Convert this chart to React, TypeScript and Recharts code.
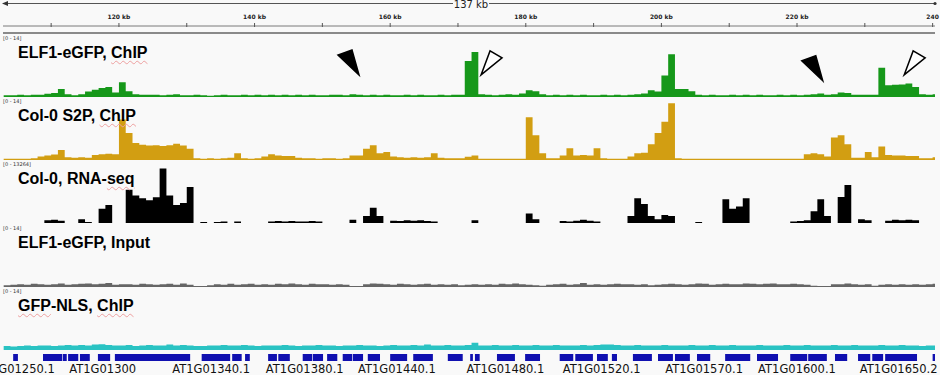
import { Area, AreaChart, ComposedChart, ReferenceDot, XAxis, YAxis } from "recharts"

const W = 940
const START_KB = 103
const X_DOMAIN: [number, number] = [102.9, 240.35]
const MARGIN = { top: 0, right: 5, bottom: 0, left: 3 }
const TRACK_H = 63

// one value per 1 kb bin, 103 kb .. 240 kb
const elf1Chip = [
  0.4, 0.4, 0.5, 0.4, 0.5, 0.5, 0.7, 0.9, 1.8, 0.6,
  0.4, 0.6, 1.2, 1.6, 2.0, 2.2, 1.0, 3.3, 1.3, 0.6,
  0.5, 0.5, 0.5, 0.4, 0.5, 0.6, 0.4, 0.4, 0.5, 0.4,
  0.3, 0.4, 0.5, 0.4, 0.4, 0.5, 0.4, 0.5, 0.4, 0.5,
  0.4, 0.5, 0.4, 0.5, 0.4, 0.5, 0.4, 0.4, 0.5, 0.5,
  0.4, 0.6, 0.5, 0.4, 0.5, 0.4, 0.5, 0.4, 0.4, 0.5,
  0.4, 0.5, 0.4, 0.4, 0.5, 0.4, 0.5, 0.5, 8.0, 10.0,
  0.6, 0.5, 0.4, 0.5, 0.6, 0.5, 0.8, 1.5, 1.3, 0.6,
  0.4, 0.5, 0.4, 0.5, 0.4, 0.5, 0.4, 0.4, 0.5, 0.4,
  0.5, 0.4, 0.5, 0.6, 0.8, 1.5, 1.2, 4.8, 9.5, 1.8,
  1.8, 1.3, 0.5, 0.4, 0.5, 0.4, 0.4, 0.5, 0.4, 0.5,
  0.4, 0.5, 0.4, 0.4, 0.5, 0.4, 0.5, 0.4, 0.5, 0.6,
  0.8, 0.5, 0.6, 1.0, 0.9, 0.5, 0.5, 0.5, 0.5, 6.5,
  2.6, 2.7, 2.8, 3.0, 2.2, 0.6, 0.5, 0.6,
]

const s2pChip = [
  0.3, 0.3, 0.3, 0.3, 0.4, 0.8, 1.0, 1.2, 2.2, 0.6,
  0.5, 0.6, 0.5, 1.1, 1.3, 1.4, 1.3, 9.0, 6.0, 3.8,
  3.4, 3.2, 3.3, 3.1, 3.3, 3.6, 3.2, 2.5, 0.4, 0.3,
  0.4, 0.3, 0.4, 0.5, 1.5, 0.4, 0.3, 0.4, 0.8, 1.3,
  1.0, 0.9, 0.9, 0.5, 0.4, 0.4, 0.3, 0.4, 0.4, 0.3,
  0.4, 1.0, 1.0, 2.5, 3.3, 1.5, 1.8, 0.8, 0.6, 0.5,
  0.6, 0.5, 0.6, 1.5, 0.5, 0.4, 0.4, 0.4, 0.7, 1.0,
  0.3, 0.3, 0.3, 0.3, 0.3, 0.3, 0.3, 9.5, 5.5, 1.5,
  0.4, 0.4, 1.0, 2.6, 1.0, 1.1, 1.0, 2.6, 0.4, 0.3,
  0.3, 0.3, 0.8, 1.5, 1.6, 3.5, 6.0, 8.5, 12.6, 0.4,
  0.3, 0.3, 0.3, 0.3, 0.3, 0.3, 0.3, 0.3, 0.3, 0.3,
  0.3, 0.3, 0.3, 0.3, 0.3, 0.3, 0.3, 0.3, 1.3, 1.5,
  1.3, 0.8, 5.0, 5.5, 3.5, 0.5, 0.5, 1.8, 0.6, 3.0,
  1.1, 1.0, 1.0, 0.9, 0.9, 0.4, 0.4, 0.6,
]

const rnaSeq = [
  0, 0, 0, 0, 0, 0, 600, 700, 500, 0,
  0, 800, 200, 0, 3000, 3800, 0, 0, 7000, 5800,
  5200, 4800, 5400, 11500, 5800, 3800, 4200, 7600, 0, 200,
  0, 200, 300, 0, 300, 0, 0, 0, 0, 300,
  400, 300, 400, 300, 300, 400, 300, 0, 0, 0,
  0, 700, 0, 1500, 3200, 1500, 0, 500, 400, 600,
  500, 600, 400, 300, 0, 0, 0, 0, 0, 600,
  0, 0, 0, 0, 0, 0, 0, 2000, 800, 0,
  0, 0, 400, 300, 500, 700, 500, 300, 0, 0,
  0, 0, 1500, 5200, 4000, 1500, 800, 1700, 1500, 0,
  0, 0, 200, 0, 0, 0, 5000, 3000, 3500, 5200,
  0, 0, 0, 0, 0, 0, 300, 400, 600, 2500,
  5000, 1500, 0, 5500, 8000, 0, 800, 600, 0, 0,
  500, 700, 600, 700, 600, 0, 0, 0,
]

const elf1Input = [
  0.4, 0.5, 0.6, 0.5, 0.7, 0.6, 0.5, 0.6, 0.8, 0.5,
  0.6, 0.7, 0.8, 0.6, 0.7, 0.9, 0.5, 0.6, 0.6, 0.5,
  0.7, 0.6, 0.5, 0.6, 0.7, 0.5, 0.8, 0.5, 0.2, 0.2,
  0.4, 0.6, 0.5, 0.7, 0.5, 0.6, 0.7, 0.5, 0.6, 0.5,
  0.7, 0.6, 0.8, 0.6, 0.5, 0.7, 0.6, 0.6, 0.5, 0.6,
  0.5, 0.2, 0.2, 0.6, 0.8, 0.7, 0.6, 0.5, 0.7, 0.6,
  0.5, 0.6, 0.7, 0.5, 0.6, 0.5, 0.6, 0.4, 0.5, 0.6,
  0.5, 0.6, 0.5, 0.7, 0.6, 0.8, 0.6, 0.5, 0.4, 0.3,
  0.5, 0.6, 0.7, 0.5, 0.6, 0.9, 0.5, 0.6, 0.5, 0.6,
  0.7, 0.6, 0.6, 0.5, 0.6, 0.4, 0.5, 0.6, 0.7, 0.6,
  0.5, 0.6, 0.8, 0.7, 0.5, 0.6, 0.7, 0.6, 0.6, 0.8,
  0.7, 0.6, 0.7, 0.8, 0.6, 0.6, 0.7, 0.6, 0.5, 0.3,
  0.2, 0.2, 0.6, 0.6, 0.8, 0.6, 0.5, 0.6, 0.3, 0.5,
  0.6, 0.5, 0.6, 0.5, 0.6, 0.5, 0.6, 0.7,
]

const gfpNlsChip = [
  0.9, 0.8, 0.9, 1.0, 0.9, 1.0, 1.0, 0.9, 1.0, 1.1,
  1.0, 1.1, 1.0, 1.2, 1.3, 1.1, 1.0, 1.0, 1.1, 0.9,
  1.0, 1.1, 1.0, 1.0, 1.2, 1.0, 1.1, 1.0, 0.9, 0.9,
  1.0, 1.0, 1.1, 1.0, 1.0, 1.1, 1.0, 0.9, 1.0, 1.0,
  1.0, 1.1, 1.0, 0.9, 1.0, 1.0, 1.1, 1.0, 1.0, 0.9,
  1.0, 1.0, 1.1, 1.0, 1.0, 0.9, 1.0, 1.1, 1.0, 1.0,
  1.1, 1.0, 1.2, 1.0, 1.0, 1.1, 1.0, 1.0, 1.1, 1.6,
  1.0, 1.0, 1.1, 1.0, 1.0, 1.1, 1.0, 1.0, 1.1, 1.0,
  1.0, 1.1, 1.0, 1.0, 1.0, 1.1, 1.0, 1.1, 1.2, 1.2,
  1.1, 1.0, 1.0, 1.1, 1.0, 1.0, 1.0, 1.1, 1.0, 1.0,
  1.0, 1.1, 1.0, 1.0, 1.1, 1.0, 1.0, 1.1, 1.0, 1.0,
  1.0, 1.1, 1.0, 1.0, 1.0, 1.1, 1.0, 1.0, 1.1, 1.0,
  1.0, 1.0, 1.1, 1.0, 1.0, 1.1, 1.0, 1.0, 1.0, 1.1,
  1.0, 1.0, 1.1, 1.0, 1.0, 0.9, 1.0, 1.0,
]

const trackValues = [elf1Chip, s2pChip, rnaSeq, elf1Input, gfpNlsChip]
const trackNames = ["ELF1-eGFP, ChIP", "Col-0 S2P, ChIP", "Col-0, RNA-seq", "ELF1-eGFP, Input", "GFP-NLS, ChIP"]
const trackRanges = ["[0 - 14]", "[0 - 14]", "[0 - 13264]", "[0 - 14]", "[0 - 14]"]
const trackMax = [14, 14, 13264, 14, 14]
const trackColors = ["#16981a", "#d29e12", "#000000", "#666666", "#2ac3c3"]
const spellMarked = [["ChIP"], ["ChIP"], ["seq"], [], ["GFP", "ChIP"]]

// ruler
const rulerTicks = [110, 120, 130, 140, 150, 160, 170, 180, 190, 200, 210, 220, 230, 240]
const rulerLabelKb = [120, 140, 160, 180, 200, 220, 240]
const rulerLabels = ["120 kb", "140 kb", "160 kb", "180 kb", "200 kb", "220 kb", "240"]

// arrowheads on the ELF1 track (tip position)
const arrowKb = [155.4, 173.4, 223.8, 235.8]
const arrowLevel = [4.9, 4.9, 3.6, 4.9]
const arrowFilled = [true, false, true, false]

// gene models (kb)
const geneStarts = [104.4, 108.8, 111.7, 112.5, 114.25, 116.9, 119.4, 132.2, 136.7, 138.6, 142.0, 143.5, 147.1, 148.6, 150.7, 153.0, 154.5, 156.7, 160.0, 163.4, 168.5, 171.8, 172.5, 175.75, 179.9, 185.0, 187.3, 190.5, 192.7, 195.8, 199.5, 202.0, 205.25, 209.4, 214.1, 219.0, 221.65, 225.6, 229.0, 231.1, 233.0, 240.0]
const geneEnds = [105.1, 111.6, 112.3, 114.0, 115.7, 118.7, 130.5, 136.4, 138.1, 139.3, 143.3, 145.2, 148.5, 150.1, 152.2, 154.4, 156.0, 158.5, 162.5, 166.3, 170.7, 172.2, 173.2, 178.4, 182.1, 187.0, 189.9, 192.1, 193.45, 198.6, 201.7, 204.2, 207.2, 213.1, 217.2, 221.5, 224.4, 227.4, 230.8, 232.7, 237.7, 240.6]
const geneLabelKb = [104.8, 117.6, 133.6, 147.4, 161, 177.0, 191.2, 206.3, 220, 235]
const geneLabels = ["AT1G01250.1", "AT1G01300", "AT1G01340.1", "AT1G01380.1", "AT1G01440.1", "AT1G01480.1", "AT1G01520.1", "AT1G01570.1", "AT1G01600.1", "AT1G01650.2"]

const toRows = (values: number[]) => {
  const rows = values.map((v, i) => ({ kb: START_KB + i, v }))
  rows.push({ kb: START_KB + values.length, v: values[values.length - 1] })
  return rows
}

const ArrowHead = (filled: boolean) => (props: any) => {
  const { cx, cy } = props
  const pts = filled
    ? [[0, 0], [-21, -20], [-7, -25]]
    : [[0, 0], [9, -24], [21, -17]]
  return (
    <polygon
      points={pts.map(([dx, dy]) => `${cx + dx},${cy + dy}`).join(" ")}
      fill={filled ? "#000" : "#fff"}
      stroke="#000"
      strokeWidth={1.5}
    />
  )
}

const RulerTick = (props: any) => {
  const { x, y, payload } = props
  const idx = rulerLabelKb.indexOf(payload.value)
  return (
    <g>
      <line x1={x} x2={x} y1={y - 5} y2={y} stroke="#555" />
      {idx >= 0 && (
        <text x={x} y={y - 9} textAnchor="middle" fontSize={6} fontWeight="bold" fill="#222" fontFamily="DejaVu Sans">
          {rulerLabels[idx]}
        </text>
      )}
    </g>
  )
}

const GeneTick = (props: any) => {
  const { x, y, payload } = props
  const idx = geneLabelKb.indexOf(payload.value)
  return (
    <text x={x} y={y + 10} textAnchor="middle" fontSize={11.5} fill="#111" fontFamily="DejaVu Sans">
      {geneLabels[idx]}
    </text>
  )
}

function Title({ text, marked }: { text: string; marked: string[] }) {
  const parts = marked.length ? text.split(new RegExp(`(${marked.join("|")})`)) : [text]
  return (
    <>
      {parts.map((p, i) =>
        marked.includes(p) ? (
          <span
            key={i}
            style={{
              textDecorationLine: "underline",
              textDecorationStyle: "wavy",
              textDecorationColor: "#eda0a0",
              textDecorationThickness: "1px",
              textUnderlineOffset: "2px",
            }}
          >
            {p}
          </span>
        ) : (
          <span key={i}>{p}</span>
        )
      )}
    </>
  )
}

function Track({ index, top }: { index: number; top: number }) {
  const rows = toRows(trackValues[index])
  return (
    <div style={{ position: "absolute", left: 0, top, width: W, height: TRACK_H }}>
      <AreaChart width={W} height={TRACK_H} data={rows} margin={MARGIN}>
        <XAxis dataKey="kb" type="number" domain={X_DOMAIN} hide allowDataOverflow />
        <YAxis type="number" domain={[0, trackMax[index]]} hide allowDataOverflow />
        <Area
          type="stepAfter"
          dataKey="v"
          stroke="none"
          fill={trackColors[index]}
          fillOpacity={1}
          isAnimationActive={false}
        />
        {index === 0 &&
          arrowKb.map((kb, i) => (
            <ReferenceDot key={i} x={kb} y={arrowLevel[i]} r={0} shape={ArrowHead(arrowFilled[i])} />
          ))}
      </AreaChart>
      <div
        style={{
          position: "absolute",
          left: 3,
          top: 1,
          fontFamily: "DejaVu Sans",
          fontSize: 5,
          lineHeight: "6px",
          color: "#333",
          whiteSpace: "nowrap",
        }}
      >
        {trackRanges[index]}
      </div>
      <div
        style={{
          position: "absolute",
          left: 18,
          top: 11,
          fontFamily: "'Liberation Sans', Arial, sans-serif",
          fontWeight: "bold",
          fontSize: 16,
          lineHeight: "16px",
          color: "#000",
          whiteSpace: "nowrap",
        }}
      >
        <Title text={trackNames[index]} marked={spellMarked[index]} />
      </div>
    </div>
  )
}

export default function App() {
  const rulerRows = rulerTicks.map((kb) => ({ kb }))
  // gene coverage as a step series: 1 inside a gene model, 0 between
  const geneRows = geneStarts.flatMap((s, i) => [
    { kb: s, v: 1 },
    { kb: geneEnds[i], v: 0 },
  ])
  const trackTops = [34, 97, 160, 224, 287]

  return (
    <div style={{ position: "relative", width: W, height: 375, background: "#f9f9f9", overflow: "hidden" }}>
      <style>{"body{margin:0}"}</style>

      {/* span indicator */}
      <svg width={W} height={12} style={{ position: "absolute", left: 0, top: 0 }}>
        <line x1={5} x2={453} y1={3.5} y2={3.5} stroke="#555" />
        <line x1={489} x2={935} y1={3.5} y2={3.5} stroke="#555" />
        <polygon points="2,3.5 8,1 8,6" fill="#333" />
        <circle cx={935} cy={3.5} r={1.6} fill="#333" />
        <text x={471} y={8} textAnchor="middle" fontSize={10} fill="#222" fontFamily="DejaVu Sans">
          137 kb
        </text>
      </svg>

      <div style={{ position: "absolute", left: 0, top: 0 }}>
        <ComposedChart width={W} height={27} data={rulerRows} margin={MARGIN}>
          <XAxis
            dataKey="kb"
            type="number"
            domain={X_DOMAIN}
            ticks={rulerTicks}
            interval={0}
            tickSize={0}
            height={1}
            tick={<RulerTick />}
            tickLine={false}
            axisLine={{ stroke: "#7a7a7a" }}
            allowDataOverflow
          />
          <YAxis hide />
        </ComposedChart>
      </div>

      <div style={{ position: "absolute", left: 3, top: 32, width: 932, height: 2, background: "#8a8a8a" }} />

      {trackTops.map((top, i) => (
        <Track key={i} index={i} top={top} />
      ))}

      <div style={{ position: "absolute", left: 0, top: 354 }}>
        <AreaChart width={W} height={21} data={geneRows} margin={MARGIN}>
          <XAxis
            dataKey="kb"
            type="number"
            domain={X_DOMAIN}
            ticks={geneLabelKb}
            interval={0}
            tickSize={0}
            height={14}
            tick={<GeneTick />}
            tickLine={false}
            axisLine={false}
            allowDataOverflow
          />
          <YAxis hide type="number" domain={[0, 1]} allowDataOverflow />
          <Area
            type="stepAfter"
            dataKey="v"
            stroke="none"
            fill="#1010b0"
            fillOpacity={1}
            isAnimationActive={false}
          />
        </AreaChart>
      </div>
    </div>
  )
}
